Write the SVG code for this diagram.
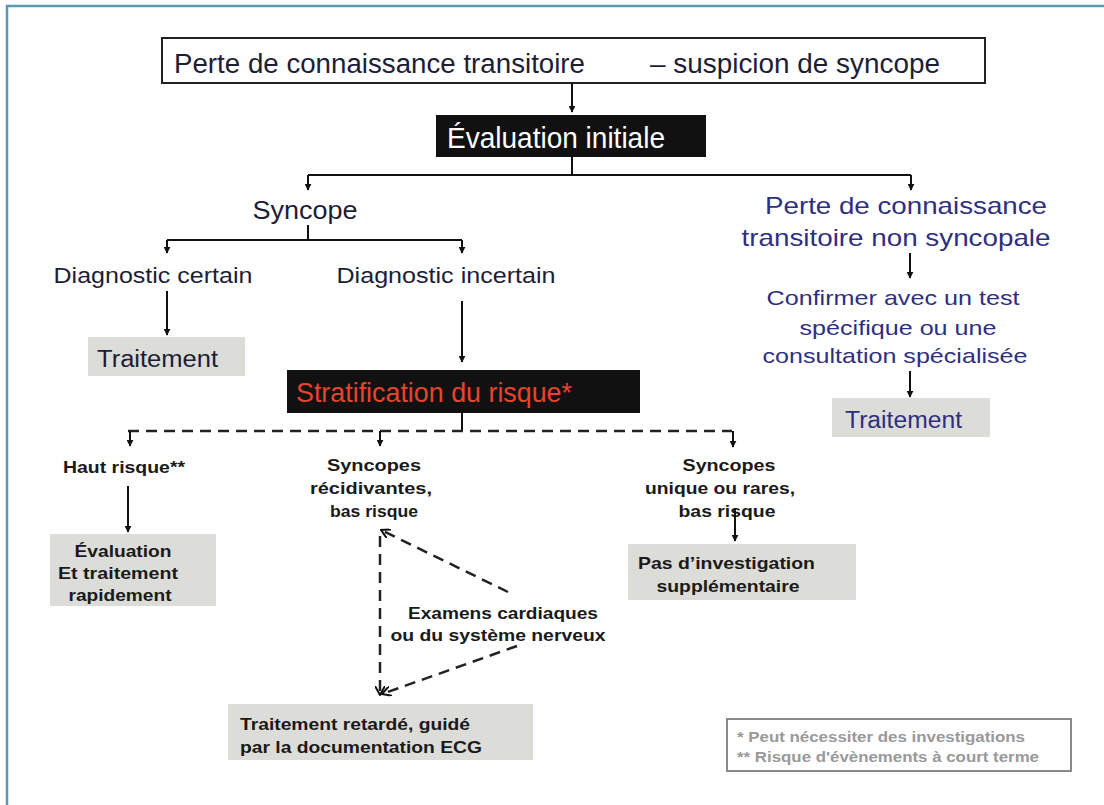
<svg xmlns="http://www.w3.org/2000/svg" width="1104" height="805" viewBox="0 0 1104 805">
<defs>
<marker id="ah" viewBox="0 0 10 10" refX="9" refY="5" markerWidth="7" markerHeight="7" markerUnits="userSpaceOnUse" orient="auto">
<path d="M0,0 L10,5 L0,10 z" fill="#111"/>
</marker>
<marker id="ao" viewBox="0 0 10 10" refX="9" refY="5" markerWidth="10" markerHeight="10" markerUnits="userSpaceOnUse" orient="auto">
<path d="M0,0 L9,5 L0,10" fill="none" stroke="#111" stroke-width="2"/>
</marker>
<style>
.t{font-family:"Liberation Sans",Arial,sans-serif;fill:#1d1d35}
.b{font-family:"Liberation Sans",Arial,sans-serif;font-weight:bold;fill:#1a1a1a;font-size:17px}
.blue{fill:#2f2f80}
.gbox{fill:#dcdcd8}
.ln{stroke:#111;stroke-width:2;fill:none}
.dash{stroke:#222;stroke-width:2.5;fill:none;stroke-dasharray:11 7}
</style>
</defs>
<rect width="1104" height="805" fill="#fff"/>
<path d="M7,820 L7,6 L1110,6" fill="none" stroke="#5a9aae" stroke-width="2.5"/>

<g id="n-top">
<rect x="162" y="38" width="823" height="45" fill="#fff" stroke="#222" stroke-width="2"/>
<text class="t" x="174" y="73" font-size="27" fill="#111" textLength="411" lengthAdjust="spacingAndGlyphs">Perte de connaissance transitoire</text>
<text class="t" x="650" y="73" font-size="27" textLength="290" lengthAdjust="spacingAndGlyphs">– suspicion de syncope</text>
</g>
<g id="n-eval">
<rect x="436" y="115" width="270" height="42" fill="#111"/>
<text x="447" y="148" font-family="Liberation Sans,Arial,sans-serif" font-size="29" fill="#fff" textLength="218" lengthAdjust="spacingAndGlyphs">Évaluation initiale</text>
</g>
<g id="n-syncope">
<text class="t" x="305" y="219" font-size="26" text-anchor="middle" textLength="105" lengthAdjust="spacingAndGlyphs">Syncope</text>
</g>
<g id="n-nonsync">
<text class="t blue" x="906" y="214" font-size="24" text-anchor="middle" textLength="282" lengthAdjust="spacingAndGlyphs">Perte de connaissance</text>
<text class="t blue" x="896" y="246" font-size="24" text-anchor="middle" textLength="309" lengthAdjust="spacingAndGlyphs">transitoire non syncopale</text>
</g>
<g id="n-diagc">
<text class="t" x="153" y="283" font-size="22" text-anchor="middle" textLength="199" lengthAdjust="spacingAndGlyphs">Diagnostic certain</text>
</g>
<g id="n-diagi">
<text class="t" x="446" y="283" font-size="22" text-anchor="middle" textLength="219" lengthAdjust="spacingAndGlyphs">Diagnostic incertain</text>
</g>
<g id="n-confirm">
<text class="t blue" x="893" y="305" font-size="21" text-anchor="middle" textLength="253" lengthAdjust="spacingAndGlyphs">Confirmer avec un test</text>
<text class="t blue" x="898" y="335" font-size="21" text-anchor="middle" textLength="197" lengthAdjust="spacingAndGlyphs">spécifique ou une</text>
<text class="t blue" x="895" y="363" font-size="21" text-anchor="middle" textLength="265" lengthAdjust="spacingAndGlyphs">consultation spécialisée</text>
</g>
<g id="n-trait1">
<rect class="gbox" x="88" y="337" width="157" height="39"/>
<text class="t" x="97" y="367" font-size="23" textLength="121" lengthAdjust="spacingAndGlyphs">Traitement</text>
</g>
<g id="n-trait2">
<rect class="gbox" x="832" y="398" width="158" height="39"/>
<text class="t blue" x="845" y="428" font-size="23" textLength="117" lengthAdjust="spacingAndGlyphs">Traitement</text>
</g>
<g id="n-strat">
<rect x="287" y="370" width="353" height="43" fill="#111"/>
<text x="296" y="402" font-family="Liberation Sans,Arial,sans-serif" font-size="28" fill="#e8432d" textLength="276" lengthAdjust="spacingAndGlyphs">Stratification du risque*</text>
</g>
<g id="n-haut">
<text class="b" x="124" y="473" text-anchor="middle" textLength="122" lengthAdjust="spacingAndGlyphs">Haut risque**</text>
</g>
<g id="n-recid">
<text class="b" x="374" y="471" text-anchor="middle" textLength="94" lengthAdjust="spacingAndGlyphs">Syncopes</text>
<text class="b" x="371" y="494" text-anchor="middle" textLength="122" lengthAdjust="spacingAndGlyphs">récidivantes,</text>
<text class="b" x="374" y="517" text-anchor="middle" textLength="88" lengthAdjust="spacingAndGlyphs">bas risque</text>
</g>
<g id="n-unique">
<text class="b" x="729" y="471" text-anchor="middle" textLength="93" lengthAdjust="spacingAndGlyphs">Syncopes</text>
<text class="b" x="720" y="494" text-anchor="middle" textLength="150" lengthAdjust="spacingAndGlyphs">unique ou rares,</text>
<text class="b" x="727" y="517" text-anchor="middle" textLength="97" lengthAdjust="spacingAndGlyphs">bas risque</text>
</g>
<g id="n-evalrap">
<rect class="gbox" x="50" y="534" width="166" height="72"/>
<text class="b" x="123" y="557" text-anchor="middle" textLength="97" lengthAdjust="spacingAndGlyphs">Évaluation</text>
<text class="b" x="118" y="579" text-anchor="middle" textLength="120" lengthAdjust="spacingAndGlyphs">Et traitement</text>
<text class="b" x="120" y="601" text-anchor="middle" textLength="103" lengthAdjust="spacingAndGlyphs">rapidement</text>
</g>
<g id="n-pasinv">
<rect class="gbox" x="628" y="544" width="228" height="56"/>
<text class="b" x="638" y="569" textLength="177" lengthAdjust="spacingAndGlyphs">Pas d’investigation</text>
<text class="b" x="728" y="592" text-anchor="middle" textLength="143" lengthAdjust="spacingAndGlyphs">supplémentaire</text>
</g>
<g id="n-examens">
<text class="b" x="503" y="619" text-anchor="middle" textLength="190" lengthAdjust="spacingAndGlyphs">Examens cardiaques</text>
<text class="b" x="498" y="641" text-anchor="middle" textLength="215" lengthAdjust="spacingAndGlyphs">ou du système nerveux</text>
</g>
<g id="n-retard">
<rect class="gbox" x="228" y="704" width="305" height="56"/>
<text class="b" x="240" y="730" textLength="230" lengthAdjust="spacingAndGlyphs">Traitement retardé, guidé</text>
<text class="b" x="240" y="753" textLength="242" lengthAdjust="spacingAndGlyphs">par la documentation ECG</text>
</g>
<g id="n-legend">
<rect x="727" y="719" width="344" height="52" fill="#fff" stroke="#8a8a8a" stroke-width="2"/>
<text x="737" y="742" font-family="Liberation Sans,Arial,sans-serif" font-weight="bold" font-size="14" fill="#999" textLength="288" lengthAdjust="spacingAndGlyphs">* Peut nécessiter des investigations</text>
<text x="737" y="762" font-family="Liberation Sans,Arial,sans-serif" font-weight="bold" font-size="14" fill="#999" textLength="302" lengthAdjust="spacingAndGlyphs">** Risque d'évènements à court terme</text>
</g>

<g id="connectors">
<path class="ln" d="M572,83 L572,112" marker-end="url(#ah)"/>
<path class="ln" d="M572,157 L572,175 M308,175 L911,175"/>
<path class="ln" d="M308,175 L308,190" marker-end="url(#ah)"/>
<path class="ln" d="M911,175 L911,190" marker-end="url(#ah)"/>
<path class="ln" d="M308,225 L308,240 M167,240 L462,240"/>
<path class="ln" d="M167,240 L167,253" marker-end="url(#ah)"/>
<path class="ln" d="M462,240 L462,253" marker-end="url(#ah)"/>
<path class="ln" d="M910,253 L910,278" marker-end="url(#ah)"/>
<path class="ln" d="M910,371 L910,397" marker-end="url(#ah)"/>
<path class="ln" d="M167,291 L167,335" marker-end="url(#ah)"/>
<path class="ln" d="M462,301 L462,362" marker-end="url(#ah)"/>
<path class="ln" d="M462,413 L462,431"/>
<path class="dash" d="M128,431 L732,431"/>
<path class="ln" d="M130,431 L130,446" marker-end="url(#ah)"/>
<path class="ln" d="M380,431 L380,446" marker-end="url(#ah)"/>
<path class="ln" d="M733,431 L733,447" marker-end="url(#ah)"/>
<path class="ln" d="M128,486 L128,532" marker-end="url(#ah)"/>
<path class="ln" d="M735,508 L735,541" marker-end="url(#ah)"/>
<path class="dash" d="M508,592 L381,530" marker-end="url(#ao)"/>
<path class="dash" d="M380,536 L380,695" marker-end="url(#ao)"/>
<path class="dash" d="M517,646 L382,694" marker-end="url(#ao)"/>
</g>
</svg>
